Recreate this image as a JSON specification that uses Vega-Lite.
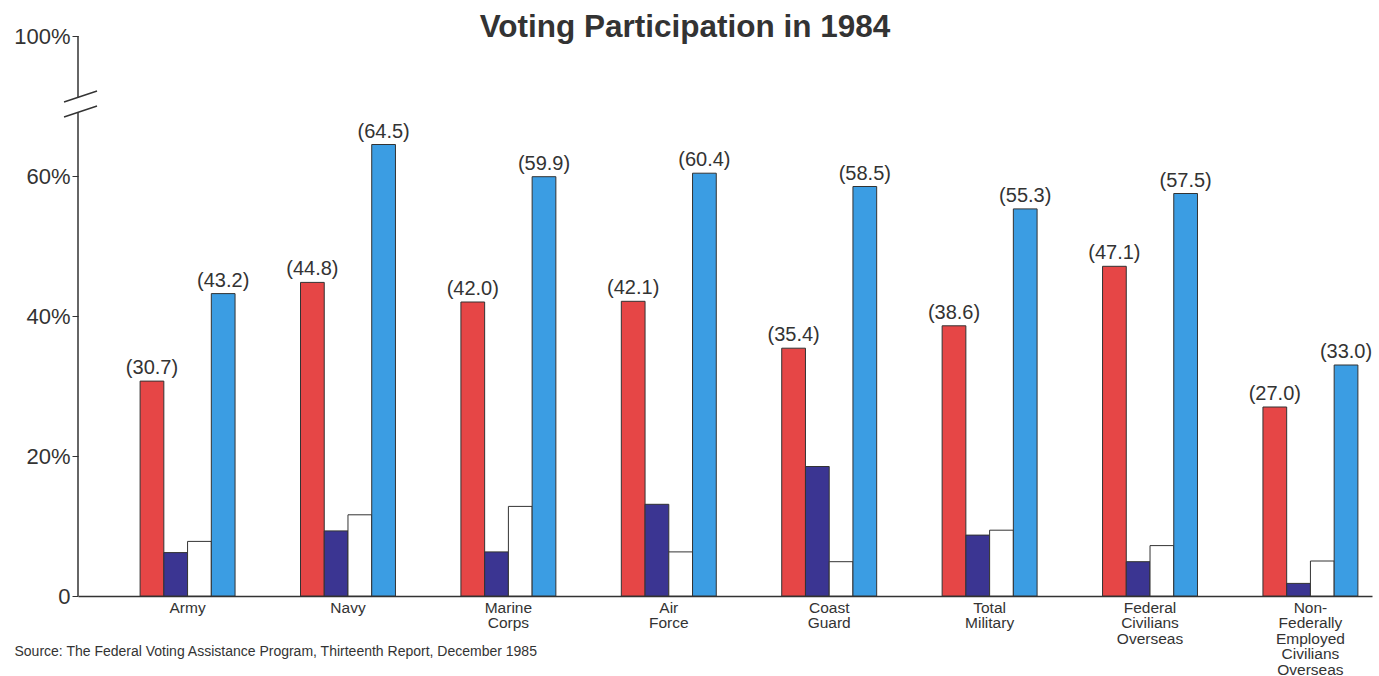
{
  "$schema": "https://vega.github.io/schema/vega-lite/v6.json",
  "width": 1294,
  "height": 560,
  "autosize": "none",
  "padding": {"left": 78, "top": 36, "right": 7, "bottom": 80},
  "background": "white",
  "config": {
    "view": {"stroke": null},
    "font": "Liberation Sans"
  },
  "title": {
    "text": "Voting Participation in 1984",
    "fontSize": 31.5,
    "fontWeight": "bold",
    "color": "#333333",
    "anchor": "middle",
    "baseline": "alphabetic",
    "offset": -4,
    "dx": -40,
    "dy": 39
  },
  "datasets": {
    "bars": [
      {"group": "Army", "series": "A", "value": 30.7, "label": "(30.7)"},
      {"group": "Army", "series": "B", "value": 6.2},
      {"group": "Army", "series": "C", "value": 7.8},
      {"group": "Army", "series": "D", "value": 43.2, "label": "(43.2)"},
      {"group": "Navy", "series": "A", "value": 44.8, "label": "(44.8)"},
      {"group": "Navy", "series": "B", "value": 9.3},
      {"group": "Navy", "series": "C", "value": 11.6},
      {"group": "Navy", "series": "D", "value": 64.5, "label": "(64.5)"},
      {"group": "Marine Corps", "series": "A", "value": 42.0, "label": "(42.0)"},
      {"group": "Marine Corps", "series": "B", "value": 6.3},
      {"group": "Marine Corps", "series": "C", "value": 12.8},
      {"group": "Marine Corps", "series": "D", "value": 59.9, "label": "(59.9)"},
      {"group": "Air Force", "series": "A", "value": 42.1, "label": "(42.1)"},
      {"group": "Air Force", "series": "B", "value": 13.1},
      {"group": "Air Force", "series": "C", "value": 6.3},
      {"group": "Air Force", "series": "D", "value": 60.4, "label": "(60.4)"},
      {"group": "Coast Guard", "series": "A", "value": 35.4, "label": "(35.4)"},
      {"group": "Coast Guard", "series": "B", "value": 18.5},
      {"group": "Coast Guard", "series": "C", "value": 4.9},
      {"group": "Coast Guard", "series": "D", "value": 58.5, "label": "(58.5)"},
      {"group": "Total Military", "series": "A", "value": 38.6, "label": "(38.6)"},
      {"group": "Total Military", "series": "B", "value": 8.7},
      {"group": "Total Military", "series": "C", "value": 9.4},
      {"group": "Total Military", "series": "D", "value": 55.3, "label": "(55.3)"},
      {"group": "Federal Civilians Overseas", "series": "A", "value": 47.1, "label": "(47.1)"},
      {"group": "Federal Civilians Overseas", "series": "B", "value": 4.9},
      {"group": "Federal Civilians Overseas", "series": "C", "value": 7.2},
      {"group": "Federal Civilians Overseas", "series": "D", "value": 57.5, "label": "(57.5)"},
      {"group": "Non-Federally Employed Civilians Overseas", "series": "A", "value": 27.0, "label": "(27.0)"},
      {"group": "Non-Federally Employed Civilians Overseas", "series": "B", "value": 1.8},
      {"group": "Non-Federally Employed Civilians Overseas", "series": "C", "value": 5.0},
      {"group": "Non-Federally Employed Civilians Overseas", "series": "D", "value": 33.0, "label": "(33.0)"}
    ],
    "axisbreak": [
      {"part": "axis low", "x1": 0, "x2": 0, "y1": 0, "y2": 70.9},
      {"part": "axis high", "x1": 0, "x2": 0, "y1": 76.6, "y2": 100},
      {"part": "slash low", "x1": -1.08, "x2": 1.47, "y1": 69.14, "y2": 73.33},
      {"part": "slash high", "x1": -1.08, "x2": 1.47, "y1": 74.86, "y2": 79.05}
    ]
  },
  "resolve": {"scale": {"x": "independent"}},
  "layer": [
    {
      "data": {"name": "bars"},
      "mark": {"type": "bar", "stroke": "#333333", "strokeWidth": 1},
      "encoding": {
        "x": {
          "field": "group",
          "type": "nominal",
          "scale": {
            "domain": ["Army", "Navy", "Marine Corps", "Air Force", "Coast Guard", "Total Military", "Federal Civilians Overseas", "Non-Federally Employed Civilians Overseas"],
            "paddingInner": 0.408,
            "paddingOuter": 0.2375,
            "align": 0.815
          },
          "axis": {
            "domainColor": "#333333",
            "domainWidth": 1.5,
            "ticks": false,
            "labelAngle": 0,
            "labelFontSize": 15.5,
            "labelColor": "#333333",
            "labelPadding": 4,
            "labelLineHeight": 15.5,
            "labelExpr": "split(replace(datum.value, 'Non-', 'Non- '), ' ')",
            "title": "Source: The Federal Voting Assistance Program, Thirteenth Report, December 1985",
            "titleFontSize": 14,
            "titleFontWeight": "normal",
            "titleColor": "#333333",
            "titleAnchor": "start",
            "titleAlign": "left",
            "titleBaseline": "middle",
            "titleX": -64,
            "titleY": 55
          }
        },
        "xOffset": {
          "field": "series",
          "type": "nominal",
          "scale": {"domain": ["A", "B", "C", "D"], "paddingInner": 0, "paddingOuter": 0}
        },
        "y": {
          "field": "value",
          "type": "quantitative",
          "scale": {"domain": [0, 68, 100], "range": [560, 84, 0]},
          "axis": {
            "values": [0, 20, 40, 60, 100],
            "labelExpr": "datum.value == 0 ? '0' : datum.value + '%'",
            "domain": false,
            "grid": false,
            "tickColor": "#333333",
            "tickSize": 6,
            "labelFontSize": 22,
            "labelColor": "#333333",
            "labelPadding": 2,
            "title": null
          }
        },
        "color": {
          "field": "series",
          "type": "nominal",
          "scale": {"domain": ["A", "B", "C", "D"], "range": ["#e64646", "#3b3592", "#ffffff", "#3b9de3"]},
          "legend": null
        }
      }
    },
    {
      "data": {"name": "bars"},
      "transform": [{"filter": "datum.label != null"}],
      "mark": {"type": "text", "align": "center", "baseline": "alphabetic", "dy": -7, "fontSize": 20, "color": "#333333"},
      "encoding": {
        "x": {
          "field": "group",
          "type": "nominal",
          "scale": {
            "domain": ["Army", "Navy", "Marine Corps", "Air Force", "Coast Guard", "Total Military", "Federal Civilians Overseas", "Non-Federally Employed Civilians Overseas"],
            "paddingInner": 0.408,
            "paddingOuter": 0.2375,
            "align": 0.815
          },
          "axis": null
        },
        "xOffset": {
          "field": "series",
          "type": "nominal",
          "scale": {"domain": ["A", "B", "C", "D"], "paddingInner": 0, "paddingOuter": 0}
        },
        "y": {
          "field": "value",
          "type": "quantitative",
          "scale": {"domain": [0, 68, 100], "range": [560, 84, 0]}
        },
        "text": {"field": "label"}
      }
    },
    {
      "data": {"name": "axisbreak"},
      "mark": {"type": "rule", "color": "#333333", "strokeWidth": 1.5},
      "encoding": {
        "x": {"field": "x1", "type": "quantitative", "scale": {"domain": [0, 100]}, "axis": null},
        "x2": {"field": "x2"},
        "y": {
          "field": "y1",
          "type": "quantitative",
          "scale": {"domain": [0, 68, 100], "range": [560, 84, 0]}
        },
        "y2": {"field": "y2"}
      }
    }
  ]
}
